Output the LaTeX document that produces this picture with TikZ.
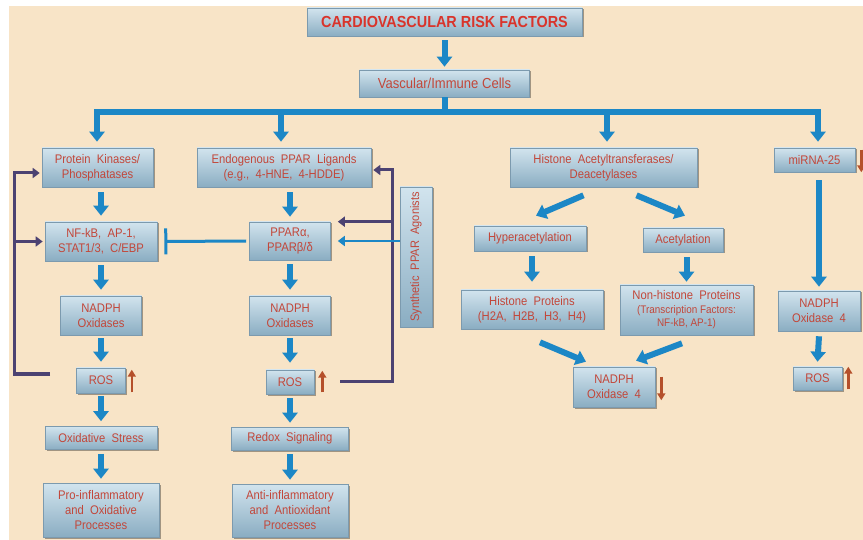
\documentclass[tikz,border=0pt]{standalone}
\usepackage{fontspec}
\setmainfont{Liberation Sans}[WordSpace=2.0, FakeStretch=0.9]
\newfontfamily\plainsans{Liberation Sans}[FakeStretch=0.9]
\usetikzlibrary{arrows.meta,shadows,calc}
\definecolor{bg}{HTML}{F8E4C7}
\definecolor{boxtop}{HTML}{D2E4EE}
\definecolor{boxbot}{HTML}{8AADC2}
\definecolor{boxline}{HTML}{7C9AAE}
\definecolor{txt}{HTML}{C2473A}
\definecolor{ttl}{HTML}{D9342B}
\definecolor{arrblue}{HTML}{1C87C6}
\definecolor{loopc}{HTML}{4C4272}
\definecolor{upar}{HTML}{B5502B}
\begin{document}
\begin{tikzpicture}[x=1pt,y=-1pt,
  box/.style={draw=boxline, line width=0.6pt, top color=boxtop, bottom color=boxbot,
    text=txt, font=\fontsize{12.5}{15}\selectfont, align=center, inner sep=1pt,
    drop shadow={shadow xshift=1.5pt, shadow yshift=-1.5pt, fill=black, opacity=0.35}},
  bluebar/.style={draw=arrblue, line width=6pt},
  barrow/.style={draw=arrblue, line width=6pt, -{Triangle[width=15pt,length=10pt]}},
  oarrow/.style={draw=upar, line width=2.5pt, -{Triangle[width=8pt,length=7pt]}},
  parrow/.style={draw=loopc, line width=3pt, -{Triangle[width=10pt,length=7pt]}},
  sarrow/.style={draw=arrblue, line width=2.5pt, -{Triangle[width=10pt,length=7pt]}},
  inhib/.style={draw=arrblue, line width=3pt, -{Bar[width=26pt]}}
]
\fill[white] (0,0) rectangle (863,540);
\fill[bg] (9,6) rectangle (863,540);
\useasboundingbox (0,0) rectangle (863,540);

% top
\node[box, minimum width=275pt, minimum height=28pt, text=ttl, font=\plainsans\fontsize{16}{18}\bfseries] (title) at (444.5,22) {CARDIOVASCULAR RISK FACTORS};
\node[box, minimum width=170pt, minimum height=27pt, font=\plainsans\fontsize{14.5}{17}\selectfont] (vasc) at (444.5,83.5) {Vascular/Immune Cells};

% left column
\node[box, minimum width=111pt, minimum height=39pt] (pk) at (97.5,167.5) {Protein Kinases/\\Phosphatases};
\node[box, minimum width=112pt, minimum height=39pt] (nfkb) at (101,241.5) {NF-kB, AP-1,\\STAT1/3, C/EBP};
\node[box, minimum width=81pt, minimum height=39pt] (nadL) at (101,315.5) {NADPH\\Oxidases};
\node[box, minimum width=49pt, minimum height=25pt] (rosL) at (101,380.5) {ROS};
\node[box, minimum width=112pt, minimum height=23pt] (oxs) at (101,438) {Oxidative Stress};
\node[box, minimum width=116pt, minimum height=54pt] (proinf) at (101,510) {Pro-inflammatory\\and Oxidative\\Processes};

% middle column
\node[box, minimum width=174pt, minimum height=39pt] (endo) at (284,167.5) {Endogenous PPAR Ligands\\(e.g., 4-HNE, 4-HDDE)};
\node[box, minimum width=81pt, minimum height=38pt] (ppar) at (290,241) {PPARα,\\PPARβ/δ};
\node[box, minimum width=81pt, minimum height=39pt] (nadM) at (290,315.5) {NADPH\\Oxidases};
\node[box, minimum width=48pt, minimum height=24pt] (rosM) at (290,382) {ROS};
\node[box, minimum width=117pt, minimum height=23pt] (redox) at (290,438.5) {Redox Signaling};
\node[box, minimum width=116pt, minimum height=53pt] (anti) at (290,510.5) {Anti-inflammatory\\and Antioxidant\\Processes};
\node[box, rotate=90, minimum width=140pt, minimum height=32pt, font=\fontsize{12.3}{14}\selectfont] (synth) at (416,257) {Synthetic PPAR Agonists};

% histone branch
\node[box, minimum width=187pt, minimum height=39pt] (hat) at (603.5,167.5) {Histone Acetyltransferases/\\Deacetylases};
\node[box, minimum width=112pt, minimum height=25pt] (hyper) at (530,238.5) {Hyperacetylation};
\node[box, minimum width=80pt, minimum height=24pt] (acet) at (683,240) {Acetylation};
\node[box, minimum width=142pt, minimum height=39pt] (hprot) at (532,309.5) {Histone Proteins\\(H2A, H2B, H3, H4)};
\node[box, minimum width=133pt, minimum height=50pt] (nhprot) at (686.5,310) {Non-histone Proteins\\[-1pt]{\plainsans\fontsize{11}{12}\selectfont(Transcription Factors:}\\[-2pt]{\plainsans\fontsize{11}{12}\selectfont NF-kB, AP-1)}};
\node[box, minimum width=82pt, minimum height=40pt] (nadfM) at (614,387) {NADPH\\Oxidase 4};

% miRNA branch
\node[box, minimum width=81pt, minimum height=24pt] (mir) at (814.5,160) {miRNA-25};
\node[box, minimum width=82pt, minimum height=40pt] (nadfR) at (819,311) {NADPH\\Oxidase 4};
\node[box, minimum width=49pt, minimum height=23pt] (rosR) at (817.5,378.5) {ROS};

% distribution bar
\coordinate (bl) at (97,112);
\coordinate (b2) at (281,112);
\coordinate (b3) at (607,112);
\coordinate (br) at (818,112);
\draw[barrow] ([yshift=-4pt]title.south) -- ([yshift=3pt]title.south |- vasc.north);
\draw[bluebar] (vasc.south) -- (vasc.south |- bl);
\draw[bluebar] ([xshift=-3pt]bl) -- ([xshift=3pt]br);
\draw[barrow] (bl) -- ([yshift=6pt]bl |- pk.north);
\draw[barrow] (b2) -- ([yshift=6pt]b2 |- endo.north);
\draw[barrow] (b3) -- ([yshift=6pt]b3 |- hat.north);
\draw[barrow] (br) -- ([yshift=6pt]br |- mir.north);

% left column arrows
\draw[barrow] ([yshift=-5pt]nfkb.north |- pk.south) -- ([yshift=6pt]nfkb.north);
\draw[barrow] ([yshift=-4pt]nfkb.south) -- ([yshift=6pt]nadL.north);
\draw[barrow] ([yshift=-3pt]nadL.south) -- ([yshift=6pt]rosL.north);
\draw[barrow] ([yshift=-3pt]rosL.south) -- ([yshift=5pt]oxs.north);
\draw[barrow] ([yshift=-4pt]oxs.south) -- ([yshift=4pt]proinf.north);

% middle column arrows
\draw[barrow] ([yshift=-5pt]ppar.north |- endo.south) -- ([yshift=5pt]ppar.north);
\draw[barrow] ([yshift=-4pt]ppar.south) -- ([yshift=6pt]nadM.north);
\draw[barrow] ([yshift=-3pt]nadM.south) -- ([yshift=7pt]rosM.north);
\draw[barrow] ([yshift=-4pt]rosM.south) -- ([yshift=4pt]redox.north);
\draw[barrow] ([yshift=-4pt]redox.south) -- ([yshift=4pt]anti.north);

% histone arrows
\draw[barrow] ([xshift=-20pt,yshift=-8pt]hat.south) -- ([xshift=6pt,yshift=10pt]hyper.north);
\draw[barrow] ([xshift=33pt,yshift=-8pt]hat.south) -- ([xshift=2pt,yshift=12pt]acet.north);
\draw[barrow] ([yshift=-5pt]hprot.north |- hyper.south) -- ([yshift=8pt]hprot.north);
\draw[barrow] ([yshift=-5pt]nhprot.north |- acet.south) -- ([yshift=3pt]nhprot.north);
\draw[barrow] ([xshift=8pt,yshift=-13pt]hprot.south) -- ([xshift=-28pt,yshift=5pt]nadfM.north);
\draw[barrow] ([xshift=-4.5pt,yshift=-8pt]nhprot.south) -- ([xshift=22pt,yshift=6pt]nadfM.north);

% miRNA arrows
\draw[barrow] ([yshift=-8pt]nadfR.north |- mir.south) -- ([yshift=4pt]nadfR.north);
\draw[barrow] ([yshift=-5pt]nadfR.south) -- ([yshift=5pt]rosR.north);

% feedback loops
\coordinate (lstart) at (50,374);
\coordinate (lx) at (14,374);
\draw[parrow] (lstart) -- (lx) |- ([xshift=-2pt,yshift=-5.5pt]pk.west);
\draw[parrow] (lx |- nfkb.west) -- ([xshift=-2pt]nfkb.west);
\coordinate (mstart) at (340,381);
\coordinate (mx) at (392,381);
\draw[parrow] (mstart) -- (mx) |- ([xshift=2pt,yshift=-2.5pt]endo.east);
\draw[parrow] (mx |- ppar.north east) -- ([xshift=7pt]ppar.north east);
\draw[sarrow] (synth.north |- ppar.east) -- ([xshift=7pt]ppar.east);
\draw[inhib] ([xshift=-3pt]ppar.west) -- ([xshift=7pt]nfkb.east);

% up/down indicators
\draw[oarrow] ([xshift=6pt,yshift=1pt]rosL.south east) -- ([xshift=6pt,yshift=-2pt]rosL.north east);
\draw[oarrow] ([xshift=8pt,yshift=2pt]rosM.south east) -- ([xshift=8pt,yshift=-1pt]rosM.north east);
\draw[oarrow] ([xshift=6pt,yshift=1pt]rosR.south east) -- ([xshift=6pt,yshift=0pt]rosR.north east);
\draw[oarrow] ([xshift=6pt,yshift=-10pt]nadfM.north east) -- ([xshift=6pt,yshift=7pt]nadfM.south east);
\draw[oarrow] ([xshift=6pt,yshift=-2pt]mir.north east) -- ([xshift=6pt]mir.south east);
\draw[oarrow] ([xshift=7pt,yshift=-5pt]nadfR.north east) -- ([xshift=7pt,yshift=13pt]nadfR.south east);
\end{tikzpicture}
\end{document}
